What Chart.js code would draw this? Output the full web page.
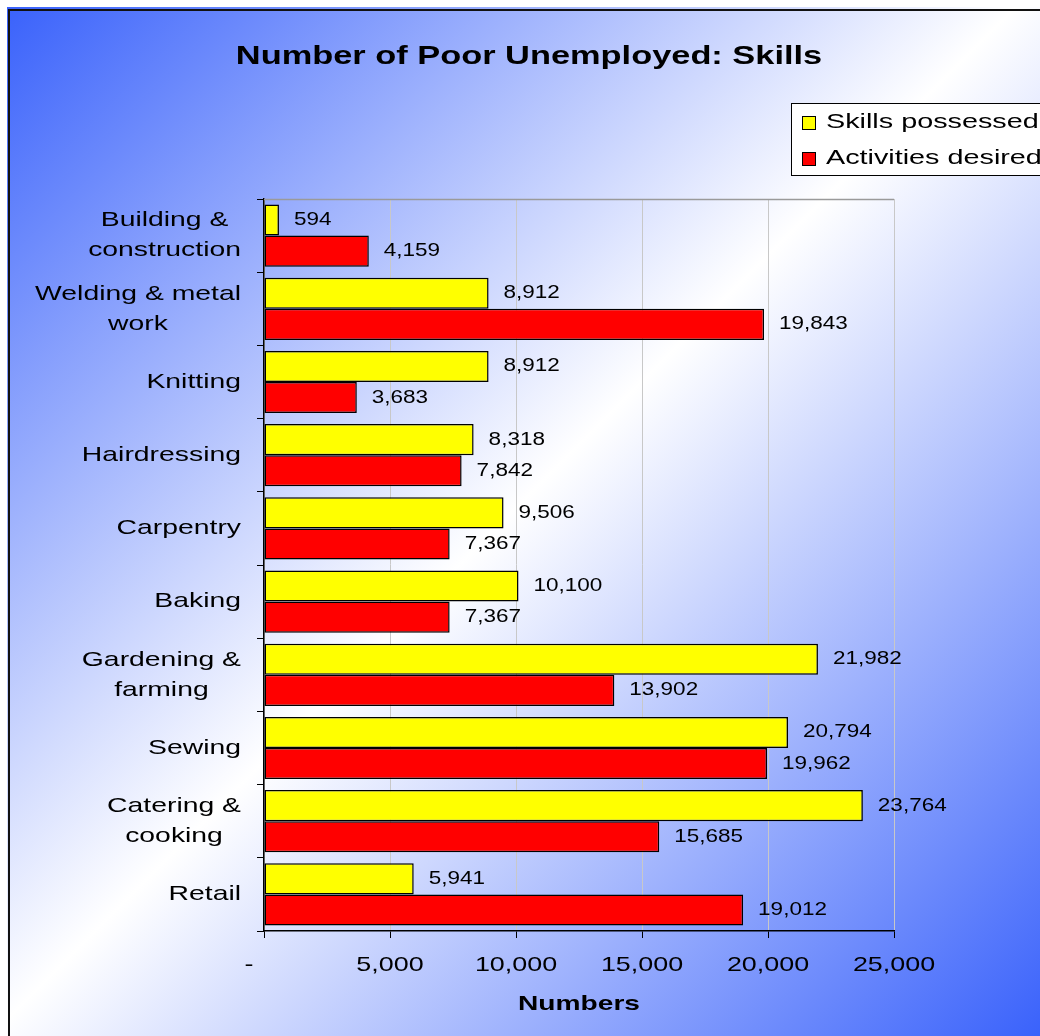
<!DOCTYPE html>
<html>
<head>
<meta charset="utf-8">
<script src="https://cdn.jsdelivr.net/npm/chart.js@4/dist/chart.umd.min.js"></script>
<style>
    html, body { margin: 0; padding: 0; background: #fff; }
    #wrap { width: 1040px; height: 1036px; position: relative; }
</style>
</head>
<body>
<div id="wrap"><canvas id="chart" width="1040" height="1036"></canvas></div>
<script>
// chart data
const categories = [
    ['Building &', 'construction'],
    ['Welding & metal', 'work'],
    'Knitting',
    'Hairdressing',
    'Carpentry',
    'Baking',
    ['Gardening &', 'farming'],
    'Sewing',
    ['Catering &', 'cooking'],
    'Retail'
];
const skillsPossessed = [594, 8912, 8912, 8318, 9506, 10100, 21982, 20794, 23764, 5941];
const activitiesDesired = [4159, 19843, 3683, 7842, 7367, 7367, 13902, 19962, 15685, 19012];
const xTicks = [0, 5000, 10000, 15000, 20000, 25000];
const seriesNames = ['Skills possessed', 'Activities desired'];
const chartTitle = 'Number of Poor Unemployed: Skills';
const xTitle = 'Numbers';

const FONT = 'Arial, "Liberation Sans", sans-serif';

function fmt(v) {
    return v === 0 ? '-' : v.toLocaleString('en-US');
}

// the original text is stretched sideways, so draw it with a horizontal scale
function wideText(ctx, text, x, y, align, sx) {
    ctx.save();
    ctx.translate(x, y);
    ctx.scale(sx, 1);
    ctx.textAlign = align;
    ctx.fillText(text, 0, 0);
    ctx.restore();
}

const framePlugin = {
    id: 'frame',
    beforeDraw(chart) {
        const ctx = chart.ctx;
        ctx.save();
        ctx.fillStyle = '#fff';
        ctx.fillRect(0, 0, chart.width, chart.height);
        const g = ctx.createLinearGradient(7, 7, 1040, 1036);
        g.addColorStop(0, '#3a62fb');
        g.addColorStop(0.49, '#ffffff');
        g.addColorStop(1, '#3a62fb');
        ctx.fillStyle = g;
        ctx.fillRect(7, 7, chart.width - 7, chart.height - 7);
        ctx.strokeStyle = '#111';
        ctx.lineWidth = 2;
        ctx.beginPath();
        ctx.moveTo(9, chart.height);
        ctx.lineTo(9, 10);
        ctx.lineTo(chart.width, 10);
        ctx.stroke();
        ctx.restore();
    },
    afterDraw(chart) {
        const ctx = chart.ctx;
        const a = chart.chartArea;
        const xs = chart.scales.x;
        const ys = chart.scales.y;
        ctx.save();
        // top border of plot area
        ctx.strokeStyle = '#9a9a9a';
        ctx.lineWidth = 1.5;
        ctx.beginPath();
        ctx.moveTo(a.left, a.top + 0.5);
        ctx.lineTo(a.right, a.top + 0.5);
        ctx.stroke();

        ctx.fillStyle = '#000';
        ctx.textBaseline = 'middle';

        // title
        ctx.font = 'bold 25px ' + FONT;
        wideText(ctx, chartTitle, 529, 57, 'center', 1.375);

        // category labels: block right aligned, lines centred
        ctx.font = '21px ' + FONT;
        const sxCat = 1.35;
        chart.data.labels.forEach((lab, i) => {
            const lines = Array.isArray(lab) ? lab : [lab];
            const w = Math.max(...lines.map(l => ctx.measureText(l).width)) * sxCat;
            const cx = 241 - w / 2;
            const cy = ys.getPixelForTick(i);
            lines.forEach((l, k) => {
                wideText(ctx, l, cx, cy + (k - (lines.length - 1) / 2) * 30, 'center', sxCat);
            });
        });

        // x tick labels and axis title (the zero dash sits left of the axis)
        xTicks.forEach(v => {
            const px = xs.getPixelForValue(v) - (v === 0 ? 15 : 0);
            wideText(ctx, fmt(v), px, 965, 'center', 1.28);
        });
        ctx.font = 'bold 21px ' + FONT;
        wideText(ctx, xTitle, (a.left + a.right) / 2, 1004, 'center', 1.34);

        // legend box
        const lx = 791, ly = 103, lw = 260, lh = 72;
        ctx.fillStyle = '#fff';
        ctx.fillRect(lx, ly, lw, lh);
        ctx.strokeStyle = '#000';
        ctx.lineWidth = 1;
        ctx.strokeRect(lx + 0.5, ly + 0.5, lw, lh);
        ctx.font = '21px ' + FONT;
        chart.data.datasets.forEach((ds, i) => {
            const y = ly + 19 + i * 36;
            ctx.fillStyle = ds.backgroundColor;
            ctx.fillRect(lx + 11, y - 6, 13, 13);
            ctx.strokeRect(lx + 11.5, y - 5.5, 13, 13);
            ctx.fillStyle = '#000';
            wideText(ctx, ds.label, lx + 35, y, 'left', 1.37);
        });

        // value labels
        ctx.font = '18px ' + FONT;
        chart.data.datasets.forEach((ds, i) => {
            chart.getDatasetMeta(i).data.forEach((bar, j) => {
                wideText(ctx, fmt(ds.data[j]), bar.x + 15, bar.y, 'left', 1.25);
            });
        });
        ctx.restore();
    }
};

new Chart(document.getElementById('chart'), {
    type: 'bar',
    data: {
        labels: categories,
        datasets: [
            {
                label: seriesNames[0],
                data: skillsPossessed,
                backgroundColor: '#ffff00',
                borderColor: '#000',
                borderWidth: 1.5,
                borderSkipped: false
            },
            {
                label: seriesNames[1],
                data: activitiesDesired,
                backgroundColor: '#ff0000',
                borderColor: '#000',
                borderWidth: 1.5,
                borderSkipped: false
            }
        ]
    },
    options: {
        indexAxis: 'y',
        responsive: false,
        animation: false,
        categoryPercentage: 0.85,
        barPercentage: 1.0,
        layout: { padding: { top: 199, right: 146, left: 0, bottom: 0 } },
        plugins: {
            legend: { display: false },
            title: { display: false },
            tooltip: { enabled: false }
        },
        scales: {
            x: {
                min: 0,
                max: 25000,
                afterBuildTicks: (s) => { s.ticks = xTicks.map(v => ({ value: v })); },
                afterFit: (s) => { s.height = 105; },
                border: { color: '#000', width: 1.5 },
                grid: {
                    color: '#c8c8c8',
                    tickColor: '#000',
                    tickLength: 7,
                    lineWidth: 1
                },
                ticks: { display: false }
            },
            y: {
                afterFit: (s) => { s.width = 264; },
                border: { color: '#000', width: 1.5 },
                grid: {
                    drawOnChartArea: false,
                    offset: true,
                    tickColor: '#000',
                    tickLength: 7
                },
                ticks: { display: false }
            }
        }
    },
    plugins: [framePlugin]
});
</script>
</body>
</html>
